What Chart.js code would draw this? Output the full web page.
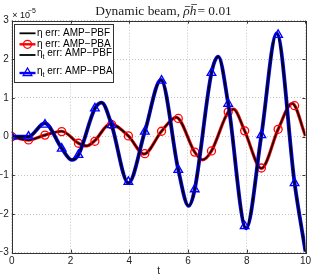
<!DOCTYPE html>
<html><head><meta charset="utf-8">
<script src="https://cdn.jsdelivr.net/npm/chart.js@4"></script>
<style>html,body{margin:0;padding:0;background:#fff;overflow:hidden}</style>
</head><body>
<canvas id="c" width="314" height="277"></canvas>
<script>
// ---- data (values in units of 1e-5) ----
const titleParts = ['Dynamic beam, ', '\u03C1', 'h', '= 0.01'];
const xTicks = [0, 2, 4, 6, 8, 10];
const yTicks = [-3, -2, -1, 0, 1, 2, 3];
const legendLabels = ['\u03B7 err: AMP\u2212PBF', '\u03B7 err: AMP\u2212PBA', '\u03B7_t err: AMP\u2212PBF', '\u03B7_t err: AMP\u2212PBA'];

// eta error curve (AMP-PBF and AMP-PBA coincide)
const etaT = [0, 0.55, 1.13, 1.7, 2.27, 2.55, 2.83, 3.35, 3.97, 4.5, 5.1, 5.6, 6.23, 6.5, 6.8, 7.37, 7.55, 7.93, 8.5, 9.07, 9.55, 10];
const etaV = [0, -0.09, 0.04, 0.14, -0.17, -0.24, -0.10, 0.33, 0.02, -0.45, 0.14, 0.50, -0.40, -0.60, -0.37, 0.64, 0.71, 0.15, -0.82, 0.19, 0.86, 0.02];

// eta_t error curve (AMP-PBF and AMP-PBA coincide)
const etatT = [0, 0.57, 1.12, 1.7, 2.04, 2.27, 2.83, 3.06, 3.4, 3.97, 4.53, 5.08, 5.67, 6.02, 6.23, 6.8, 7.03, 7.37, 7.98, 8.5, 9.02, 9.63, 10];
const etatV = [0, 0, 0.35, -0.30, -0.60, -0.47, 0.73, 0.88, 0.30, -1.20, 0.13, 1.47, -0.86, -1.79, -1.36, 1.65, 2.07, 0.85, -2.37, 0.04, 2.67, -1.20, -2.97];

// marker positions
const markT = [0, 0.57, 1.13, 1.7, 2.27, 2.83, 3.4, 3.97, 4.53, 5.1, 5.67, 6.23, 6.8, 7.37, 7.93, 8.5, 9.07, 9.63];
const etaMarkV = [0, -0.085, 0.04, 0.13, -0.17, -0.12, 0.31, 0.02, -0.44, 0.14, 0.47, -0.40, -0.37, 0.64, 0.15, -0.81, 0.19, 0.80];
const etatMarkV = [0, 0, 0.31, -0.31, -0.47, 0.73, 0.30, -1.17, 0.13, 1.45, -0.86, -1.36, 1.65, 0.85, -2.31, 0.04, 2.63, -1.20];

const pts = (ts, vs) => ts.map((t, i) => ({x: t, y: vs[i]}));
const RED = '#ff0000', BLUE = '#0000ff', BLACK = '#000000';
const SANS = '"Liberation Sans", Arial, sans-serif';
const SERIF = '"Liberation Serif", "DejaVu Serif", serif';

const frame = {
  id: 'frame',
  afterDraw(chart) {
    const ctx = chart.ctx, a = chart.chartArea;
    const xs = chart.scales.x, ys = chart.scales.y;
    ctx.save();
    // title
    const fN = '13.4px ' + SERIF, fI = 'italic 13.4px ' + SERIF;
    const fonts = [fN, fI, fI, fN];
    const widths = titleParts.map((p, i) => { ctx.font = fonts[i]; return ctx.measureText(p).width; });
    const total = widths.reduce((s, w) => s + w, 0) + 1;
    let tx = 163.5 - total / 2;
    const ty = 14.5;
    ctx.fillStyle = '#222';
    ctx.textBaseline = 'alphabetic';
    titleParts.forEach((p, i) => {
      ctx.font = fonts[i];
      ctx.fillText(p, tx, ty);
      if (i === 1 || i === 2) {
        ctx.strokeStyle = '#333';
        ctx.lineWidth = 0.8;
        const by = i === 1 ? 6.5 : 4.5;
        ctx.beginPath(); ctx.moveTo(tx + 1.5, by); ctx.lineTo(tx + widths[i] + 0.5, by); ctx.stroke();
      }
      tx += widths[i] + (i === 2 ? 1 : 0);
    });

    // axes box
    ctx.strokeStyle = '#333';
    ctx.lineWidth = 1;
    ctx.strokeRect(Math.round(a.left) + 0.5, Math.round(a.top) + 0.5, Math.round(a.right - a.left), Math.round(a.bottom - a.top));
    // inward ticks
    ctx.beginPath();
    xTicks.forEach(v => {
      const x = Math.round(xs.getPixelForValue(v)) + 0.5;
      ctx.moveTo(x, a.bottom); ctx.lineTo(x, a.bottom - 3);
      ctx.moveTo(x, a.top); ctx.lineTo(x, a.top + 3);
    });
    yTicks.forEach(v => {
      const y = Math.round(ys.getPixelForValue(v)) + 0.5;
      ctx.moveTo(a.left, y); ctx.lineTo(a.left + 3, y);
      ctx.moveTo(a.right, y); ctx.lineTo(a.right - 3, y);
    });
    ctx.stroke();
    // exponent label
    ctx.fillStyle = '#111';
    ctx.textBaseline = 'alphabetic';
    ctx.font = '9px ' + SANS;
    ctx.fillText('\u00D7 10', a.left + 0.5, 18);
    ctx.font = '7px ' + SANS;
    ctx.fillText('\u22125', a.left + 16, 12.5);

    // legend
    const L = 14.5, T = 24.5, W = 99, H = 58;
    ctx.fillStyle = '#fff';
    ctx.fillRect(L, T, W, H);
    ctx.strokeStyle = '#333';
    ctx.strokeRect(L, T, W, H);
    const rows = [33.3, 44.3, 55, 73];
    const textY = [33.3, 44.3, 53, 71];
    const styles = [
      {c: BLACK, w: 1.8, m: null},
      {c: RED, w: 2.4, m: 'circle'},
      {c: BLACK, w: 1.8, m: null},
      {c: BLUE, w: 2.4, m: 'triangle'}
    ];
    const x0 = 19.5, x1 = 35.5, mx = 27.5;
    rows.forEach((y, i) => {
      const s = styles[i];
      ctx.strokeStyle = s.c;
      ctx.lineWidth = s.w;
      ctx.beginPath(); ctx.moveTo(x0, y); ctx.lineTo(x1, y); ctx.stroke();
      ctx.lineWidth = 1.3;
      if (s.m === 'circle') {
        ctx.beginPath(); ctx.arc(mx, y, 4, 0, Math.PI * 2); ctx.stroke();
      } else if (s.m === 'triangle') {
        const r = 5;
        ctx.beginPath();
        ctx.moveTo(mx, y - r);
        ctx.lineTo(mx + r * 0.866, y + r * 0.5);
        ctx.lineTo(mx - r * 0.866, y + r * 0.5);
        ctx.closePath(); ctx.stroke();
      }
      // label with optional subscript
      const lab = legendLabels[i];
      ctx.fillStyle = '#000';
      ctx.textBaseline = 'middle';
      let lx = 37;
      const ly = textY[i];
      const parts = lab.split('_');
      ctx.font = '10px ' + SANS;
      if (parts.length === 1) {
        ctx.fillText(lab, lx, ly);
      } else {
        ctx.fillText(parts[0], lx, ly);
        lx += ctx.measureText(parts[0]).width;
        ctx.font = '7px ' + SANS;
        const sub = parts[1].charAt(0);
        ctx.fillText(sub, lx, ly + 4);
        lx += ctx.measureText(sub).width;
        ctx.font = '10px ' + SANS;
        ctx.fillText(parts[1].slice(1), lx, ly);
      }
    });
    ctx.restore();
  }
};

new Chart(document.getElementById('c'), {
  type: 'line',
  data: {
    datasets: [
      {label: 'eta_t PBA markers', data: pts(markT, etatMarkV), showLine: false, pointStyle: 'triangle', pointRadius: 5, pointBorderColor: BLUE, pointBackgroundColor: 'rgba(0,0,0,0)', pointBorderWidth: 1.3, order: 0},
      {label: 'eta_t PBF', data: pts(etatT, etatV), borderColor: BLACK, borderWidth: 1.8, pointRadius: 0, cubicInterpolationMode: 'monotone', fill: false, order: 1},
      {label: 'eta_t PBA', data: pts(etatT, etatV), borderColor: BLUE, borderWidth: 3.8, pointRadius: 0, cubicInterpolationMode: 'monotone', fill: false, order: 2},
      {label: 'eta PBA markers', data: pts(markT, etaMarkV), showLine: false, pointStyle: 'circle', pointRadius: 4, pointBorderColor: RED, pointBackgroundColor: 'rgba(0,0,0,0)', pointBorderWidth: 1.3, order: 3},
      {label: 'eta PBF', data: pts(etaT, etaV), borderColor: BLACK, borderWidth: 1.5, pointRadius: 0, cubicInterpolationMode: 'monotone', fill: false, order: 4},
      {label: 'eta PBA', data: pts(etaT, etaV), borderColor: RED, borderWidth: 3.2, pointRadius: 0, cubicInterpolationMode: 'monotone', fill: false, order: 5}
    ]
  },
  options: {
    responsive: false,
    animation: false,
    devicePixelRatio: 1,
    events: [],
    layout: {padding: {left: 0, right: 8, top: 20.6, bottom: 0}},
    plugins: {
      legend: {display: false},
      tooltip: {enabled: false},
      title: {display: false}
    },
    scales: {
      x: {
        type: 'linear', min: 0, max: 10,
        afterBuildTicks: s => { s.ticks = xTicks.map(v => ({value: v})); },
        afterFit: s => { s.height = 24.3; },
        ticks: {color: '#222', font: {family: SANS, size: 10}, padding: 3, maxRotation: 0, autoSkip: false},
        grid: {color: '#c4c4c4', lineWidth: 1, drawTicks: false},
        border: {display: false, dash: [1, 2]},
        title: {display: true, text: 't', color: '#222', font: {family: SANS, size: 10}, padding: {top: 0, bottom: 0}}
      },
      y: {
        type: 'linear', min: -3, max: 3,
        afterBuildTicks: s => { s.ticks = yTicks.map(v => ({value: v})); },
        afterFit: s => { s.width = 11.8; },
        ticks: {color: '#222', font: {family: SANS, size: 10}, padding: 3, autoSkip: false,
          callback: v => (v < 0 ? '\u2212' + Math.abs(v) : String(v))},
        grid: {color: '#c4c4c4', lineWidth: 1, drawTicks: false},
        border: {display: false, dash: [1, 2]}
      }
    }
  },
  plugins: [frame]
});
</script>
</body></html>
